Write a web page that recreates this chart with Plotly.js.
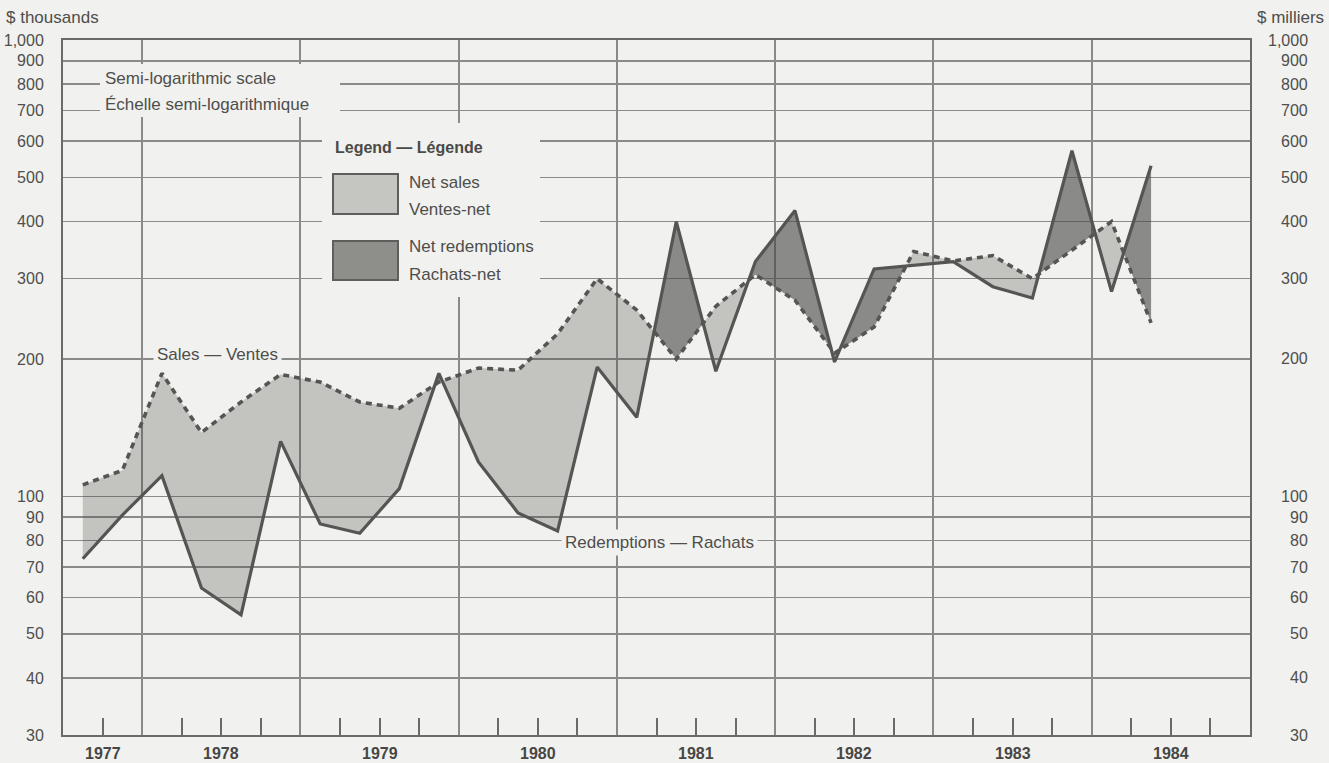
<!DOCTYPE html>
<html>
<head>
<meta charset="utf-8">
<script src="https://cdn.plot.ly/plotly-3.0.1.min.js"></script>
<style>
  html, body { margin: 0; padding: 0; background: #f1f1ef; }
  #chart { width: 1329px; height: 763px; }
</style>
</head>
<body>
<div id="chart"></div>
<script>
// ---------------- data ----------------
const quarters = [
  '1977 Q3', '1977 Q4',
  '1978 Q1', '1978 Q2', '1978 Q3', '1978 Q4',
  '1979 Q1', '1979 Q2', '1979 Q3', '1979 Q4',
  '1980 Q1', '1980 Q2', '1980 Q3', '1980 Q4',
  '1981 Q1', '1981 Q2', '1981 Q3', '1981 Q4',
  '1982 Q1', '1982 Q2', '1982 Q3', '1982 Q4',
  '1983 Q1', '1983 Q2', '1983 Q3', '1983 Q4',
  '1984 Q1', '1984 Q2'
];
// Sales — Ventes ($ thousands)
const sales = [106, 114, 186, 138, 161, 185, 178, 161, 156, 178, 191, 189, 227, 300,
               256, 200, 261, 306, 269, 206, 235, 344, 328, 337, 300, 347, 400, 240];
// Redemptions — Rachats ($ thousands)
const redemptions = [73, 91, 111, 63, 55, 132, 87, 83, 104, 186, 119, 92, 84, 192,
                     149, 400, 188, 327, 423, 197, 315, 321, 327, 288, 272, 572, 281, 530];
const yearLabels = ['1977', '1978', '1979', '1980', '1981', '1982', '1983', '1984'];
const yTickValues = [30, 40, 50, 60, 70, 80, 90, 100, 200, 300, 400, 500, 600, 700, 800, 900, 1000];
const yTickText = ['30', '40', '50', '60', '70', '80', '90', '100', '200', '300', '400',
                   '500', '600', '700', '800', '900', '1,000'];

// ---------------- styling ----------------
const BG = '#f1f1ef';
const GRID = '#8a8a88';
const AXIS = '#6a6a68';
const TEXT = '#4e4e4c';
const LINE = '#555654';
const LIGHT_FILL = 'rgba(70,72,68,0.27)';
const DARK_FILL = 'rgba(70,72,68,0.60)';
const LIGHT_SWATCH = '#c5c6c2';
const DARK_SWATCH = '#8e8f8b';
const FONT = 'Liberation Sans, Arial, Helvetica, sans-serif';

const W = 1329, H = 763;
const M = { l: 63, r: 79, t: 40, b: 28 };
const PW = W - M.l - M.r, PH = H - M.t - M.b;
const px = v => (v - M.l) / PW;          // pixel -> paper x
const py = v => (H - M.b - v) / PH;      // pixel -> paper y

const X_RANGE = [1977.5, 1985];

function quarterX(label) {
  const parts = label.split(' Q');
  return Number(parts[0]) + (Number(parts[1]) - 1) / 4 + 0.125;
}
const xs = quarters.map(quarterX);

// ---------------- fills between the two series (split at crossings) ----------------
function buildFills() {
  const ls = sales.map(Math.log10), lr = redemptions.map(Math.log10);
  const pos = { x: [], y: [] }, neg = { x: [], y: [] };
  let upper = [[xs[0], ls[0]]], lower = [[xs[0], lr[0]]];
  let sign = Math.sign(ls[0] - lr[0]);
  function flush() {
    const target = sign > 0 ? pos : neg;
    const poly = upper.concat(lower.slice().reverse());
    poly.forEach(p => { target.x.push(p[0]); target.y.push(Math.pow(10, p[1])); });
    target.x.push(null); target.y.push(null);
  }
  for (let i = 0; i < xs.length - 1; i++) {
    const d0 = ls[i] - lr[i], d1 = ls[i + 1] - lr[i + 1];
    if (d0 * d1 < 0) {
      const t = d0 / (d0 - d1);
      const xc = xs[i] + t * (xs[i + 1] - xs[i]);
      const yc = ls[i] + t * (ls[i + 1] - ls[i]);
      upper.push([xc, yc]); lower.push([xc, yc]);
      flush();
      sign = -sign;
      upper = [[xc, yc]]; lower = [[xc, yc]];
    }
    upper.push([xs[i + 1], ls[i + 1]]);
    lower.push([xs[i + 1], lr[i + 1]]);
  }
  flush();
  return { pos, neg };
}
const fills = buildFills();

const traces = [
  { x: fills.pos.x, y: fills.pos.y, type: 'scatter', mode: 'none', fill: 'toself',
    fillcolor: LIGHT_FILL, hoverinfo: 'skip', name: 'Net sales — Ventes-net' },
  { x: fills.neg.x, y: fills.neg.y, type: 'scatter', mode: 'none', fill: 'toself',
    fillcolor: DARK_FILL, hoverinfo: 'skip', name: 'Net redemptions — Rachats-net' },
  { x: xs, y: redemptions, type: 'scatter', mode: 'lines', name: 'Redemptions — Rachats',
    line: { color: LINE, width: 3.2 } },
  { x: xs, y: sales, type: 'scatter', mode: 'lines', name: 'Sales — Ventes',
    line: { color: LINE, width: 3.6, dash: '6px,5px' } }
];

// ---------------- axes ----------------
const yearNums = yearLabels.map(Number);
const yearBounds = yearNums.filter(y => y > X_RANGE[0] && y < X_RANGE[1]);
const quarterTicks = [];
yearNums.forEach(y => [0.25, 0.5, 0.75].forEach(f => {
  const v = y + f;
  if (v > X_RANGE[0] && v < X_RANGE[1]) quarterTicks.push(v);
}));

const annotations = [];
// year labels, centred on the visible part of each year
yearNums.forEach((y, i) => {
  const a = Math.max(y, X_RANGE[0]), b = Math.min(y + 1, X_RANGE[1]);
  annotations.push({ xref: 'x', x: (a + b) / 2, yref: 'paper', y: 0, yanchor: 'top', yshift: -8,
    text: '<b>' + yearLabels[i] + '</b>', showarrow: false,
    font: { family: FONT, size: 16, color: '#474745' } });
});
// right-hand scale labels
yTickValues.forEach((v, i) => {
  annotations.push({ xref: 'paper', x: px(1310), xanchor: 'right', yref: 'y', y: Math.log10(v),
    text: yTickText[i], showarrow: false, font: { family: FONT, size: 16, color: TEXT } });
});

function label(text, xPix, yPix, opts) {
  return Object.assign({ xref: 'paper', yref: 'paper', x: px(xPix), y: py(yPix),
    xanchor: 'left', yanchor: 'middle', text: text, showarrow: false,
    font: { family: FONT, size: 17, color: TEXT } }, opts || {});
}
annotations.push(
  label('$ thousands', 4, 17),
  label('$ milliers', 1326, 17, { xanchor: 'right' }),
  label('Semi-logarithmic scale', 103, 79),
  label('Échelle semi-logarithmique', 103, 105),
  label('<b>Legend — Légende</b>', 333, 147, { font: { family: FONT, size: 16, color: '#4a4a48' } }),
  label('Net sales', 407, 182),
  label('Ventes-net', 407, 209),
  label('Net redemptions', 407, 247),
  label('Rachats-net', 407, 274),
  label('Sales — Ventes', 153, 355, { bgcolor: BG, borderpad: 3 }),
  label('Redemptions — Rachats', 561, 542, { bgcolor: BG, borderpad: 3 })
);

const shapes = [
  // masks behind the scale note and the legend
  { type: 'rect', xref: 'paper', yref: 'paper', x0: px(100), x1: px(340), y0: py(64), y1: py(117),
    fillcolor: BG, line: { width: 0 }, layer: 'above' },
  { type: 'rect', xref: 'paper', yref: 'paper', x0: px(322), x1: px(540), y0: py(123), y1: py(297),
    fillcolor: BG, line: { width: 0 }, layer: 'above' },
  // legend swatches
  { type: 'rect', xref: 'paper', yref: 'paper', x0: px(333), x1: px(398), y0: py(174), y1: py(214),
    fillcolor: LIGHT_SWATCH, line: { color: '#5e5f5c', width: 2 }, layer: 'above' },
  { type: 'rect', xref: 'paper', yref: 'paper', x0: px(333), x1: px(398), y0: py(241), y1: py(280),
    fillcolor: DARK_SWATCH, line: { color: '#5e5f5c', width: 2 }, layer: 'above' }
];

const layout = {
  width: W, height: H,
  margin: M,
  paper_bgcolor: BG, plot_bgcolor: BG,
  showlegend: false,
  font: { family: FONT, color: TEXT },
  xaxis: {
    range: X_RANGE, type: 'linear',
    tickmode: 'array', tickvals: yearBounds, showticklabels: false, ticks: '',
    showgrid: true, gridcolor: GRID, gridwidth: 2,
    showline: true, linecolor: AXIS, linewidth: 2, mirror: true, zeroline: false,
    minor: { tickmode: 'array', tickvals: quarterTicks, ticks: 'inside', ticklen: 17,
             tickwidth: 2, tickcolor: AXIS, showgrid: false }
  },
  yaxis: {
    type: 'log', range: [Math.log10(30), 3],
    tickmode: 'array', tickvals: yTickValues, ticktext: yTickText, ticks: '',
    ticklabelstandoff: 14,
    tickfont: { family: FONT, size: 16, color: TEXT },
    showgrid: true, gridcolor: GRID, gridwidth: 1.6,
    showline: true, linecolor: AXIS, linewidth: 2, mirror: true, zeroline: false
  },
  annotations: annotations,
  shapes: shapes
};

Plotly.newPlot('chart', traces, layout, { displayModeBar: false, staticPlot: true });
</script>
</body>
</html>
